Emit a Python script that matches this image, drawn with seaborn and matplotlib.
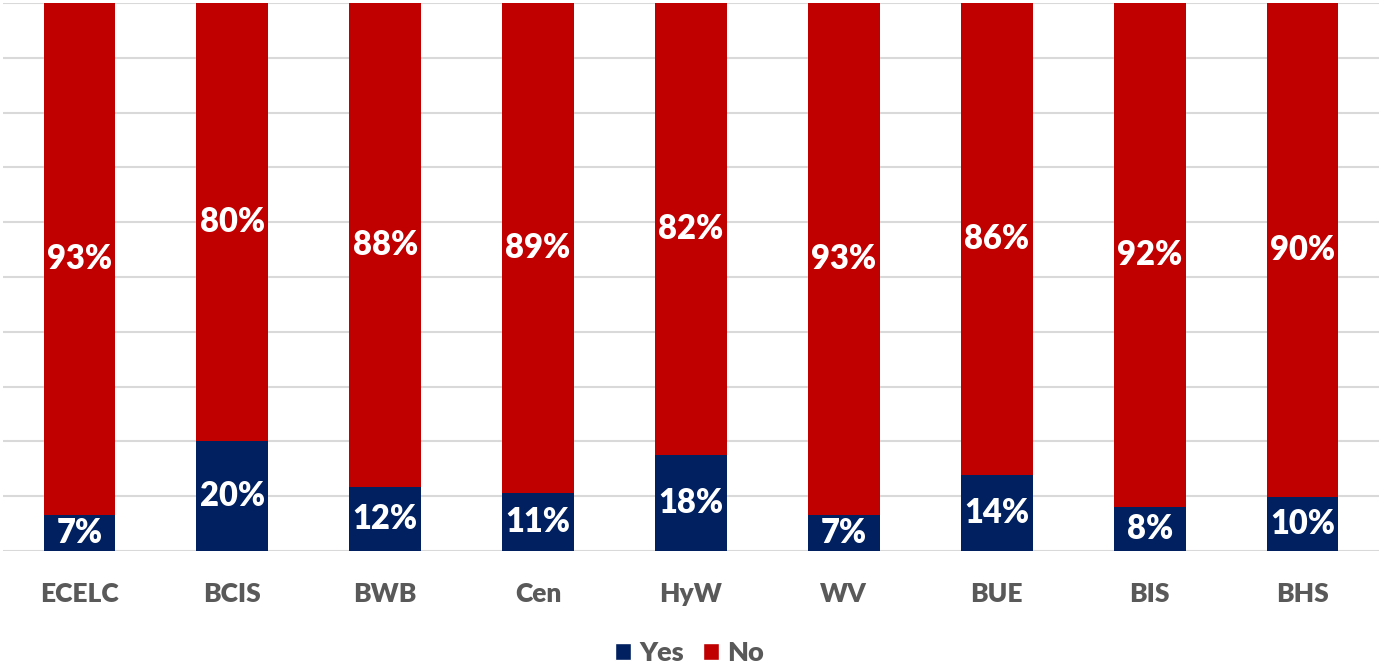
import matplotlib
matplotlib.use("Agg")
import matplotlib.pyplot as plt
import seaborn as sns
import pandas as pd
from matplotlib.patches import Patch

# Data (share of respondents, %)
schools = ["ECELC", "BCIS", "BWB", "Cen", "HyW", "WV", "BUE", "BIS", "BHS"]
yes_share = [6.6, 20.0, 11.6, 10.6, 17.6, 6.6, 13.9, 8.0, 9.9]
no_share = [100 - v for v in yes_share]

navy = "#002060"
red = "#C00000"
grey_text = "#595959"

df = pd.DataFrame({"school": schools, "yes": yes_share, "no": no_share})
df["total"] = df["yes"] + df["no"]

sns.set_style("white")
plt.rcParams["font.family"] = ["Lato", "DejaVu Sans"]
plt.rcParams["font.weight"] = "heavy"

fig = plt.figure(figsize=(13.79, 6.70), dpi=100)
ax = fig.add_axes([3 / 1379, (670 - 551) / 670, 1376 / 1379, 548 / 670])

# stacked bars: full height in red, "Yes" part in navy on top of it
sns.barplot(data=df, x="school", y="total", color=red, width=0.47,
            saturation=1, linewidth=0, ax=ax, zorder=3)
sns.barplot(data=df, x="school", y="yes", color=navy, width=0.47,
            saturation=1, linewidth=0, ax=ax, zorder=4)

for i, (y, n) in enumerate(zip(df["yes"], df["no"])):
    ax.text(i, y / 2, f"{round(y)}%", ha="center", va="center",
            color="white", fontsize=23.5, fontweight="heavy", zorder=5)
    ax.text(i, y + n / 2, f"{round(n)}%", ha="center", va="center",
            color="white", fontsize=23.5, fontweight="heavy", zorder=5)

ax.set_ylim(0, 100)
ax.set_xlim(-0.5, len(schools) - 0.5)
ax.set_yticks(range(0, 101, 10))
ax.set_yticklabels([])
ax.yaxis.grid(True, color="#D9D9D9", linewidth=1.5, zorder=0)
ax.set_axisbelow(True)
for s in ax.spines.values():
    s.set_visible(False)
ax.tick_params(axis="both", length=0)
ax.tick_params(axis="x", pad=22, labelsize=19, labelcolor=grey_text)
for lbl in ax.get_xticklabels():
    lbl.set_fontweight("heavy")
ax.set_xlabel("")
ax.set_ylabel("")

handles = [Patch(facecolor=navy, label="Yes"), Patch(facecolor=red, label="No")]
leg = fig.legend(handles=handles, loc="center", bbox_to_anchor=(0.5, 1 - 653 / 670),
                 ncol=2, frameon=False, fontsize=19.5, handlelength=0.6,
                 handleheight=0.6, handletextpad=0.3, columnspacing=0.7)
for t in leg.get_texts():
    t.set_color(grey_text)
    t.set_fontweight("heavy")

fig.savefig("out.png", dpi=100)
plt.close(fig)
